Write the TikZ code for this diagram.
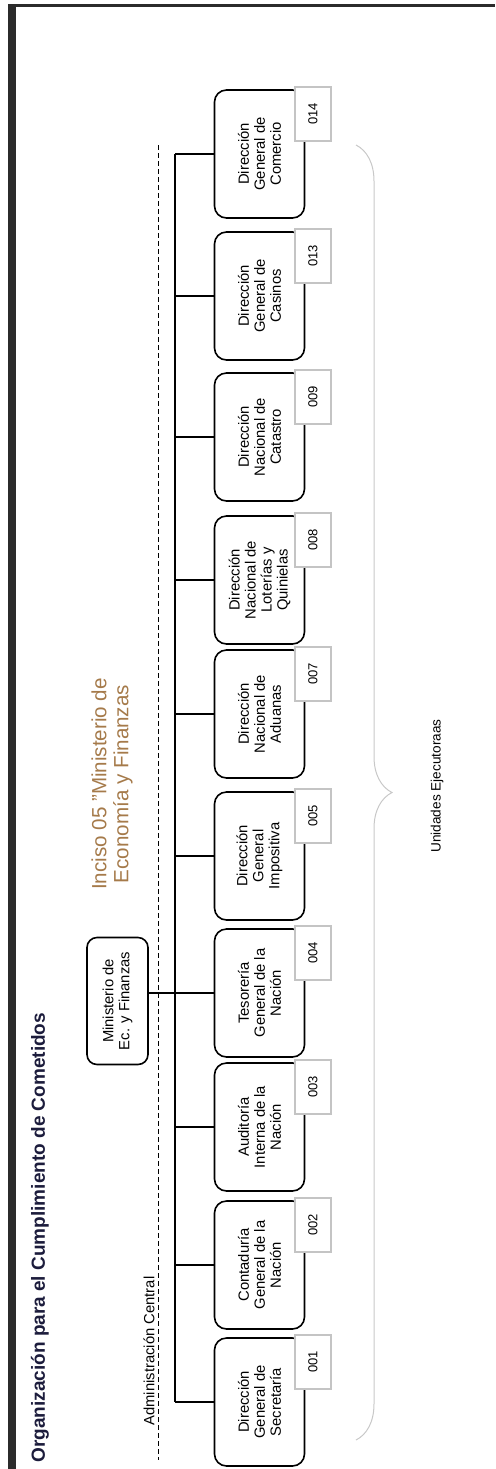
\documentclass[tikz,border=0pt]{standalone}
\usepackage{fontspec}
\setmainfont{Liberation Sans}
\usepackage{tikz}
\usetikzlibrary{decorations.pathreplacing}
\definecolor{frame}{HTML}{2B2B2B}
\definecolor{navy}{HTML}{1C1C3C}
\definecolor{tan}{HTML}{A57A4A}
\definecolor{codeline}{HTML}{C4C4C4}
\definecolor{bracegray}{HTML}{C8C8C8}

\begin{document}
\begin{tikzpicture}[x=0.5pt, y=-0.5pt,
  every node/.style={rotate=90, inner sep=0pt},
  unit/.style={draw=black, line width=0.8pt, rounded corners=6pt, fill=white,
    minimum width=64pt, minimum height=45pt, align=center,
    font=\fontsize{7.4}{8}\selectfont},
  code/.style={draw=codeline, line width=0.6pt, fill=white,
    minimum width=27pt, minimum height=18pt, font=\fontsize{6.5}{7}\selectfont},
  link/.style={draw=black, line width=0.8pt}]
  \useasboundingbox (0,0) rectangle (495,1469);
  % Frame
  \fill[frame] (8,4) rectangle (16,1469);
  \fill[frame] (8,4) rectangle (495,7);

  % Titles
  \node[anchor=west, text=navy, font=\fontsize{9.5}{11}\selectfont\bfseries] (title) at (40,1463)
    {Organización para el Cumplimiento de Cometidos};
  \node[text=tan, align=center, font=\fontsize{10.3}{11}\selectfont] (inciso) at (112,784)
    {Inciso 05 \symbol{34}Ministerio de\\Economía y Finanzas};
  \node[font=\fontsize{7.4}{8}\selectfont] (admin) at (149,1351) {Administración Central};
  \draw[black, line width=0.5pt, dash pattern=on 2.5pt off 1.5pt] (158,145) -- (158,1460);

  % Ministry
  \node[unit, minimum width=63.5pt, minimum height=30.5pt, rounded corners=5pt] (min) at (117.5,1001)
    {Ministerio de\\Ec. y Finanzas};

  % Executing units
  \coordinate (trunk) at (175,0);
  \foreach \y/\n/\txt in {154/014/{Dirección\\General de\\Comercio},
      296/013/{Dirección\\General de\\Casinos},
      437/009/{Dirección\\Nacional de\\Catastro},
      580/008/{Dirección\\Nacional de\\Loterías y\\Quinielas},
      714/007/{Dirección\\Nacional de\\Aduanas},
      856/005/{Dirección\\General\\Impositiva},
      993/004/{Tesorería\\General de la\\Nación},
      1127/003/{Auditoría\\Interna de la\\Nación},
      1265/002/{Contaduría\\General de la\\Nación},
      1402/001/{Dirección\\General de\\Secretaría}}{
    \node[unit] (b\n) at (259.5,\y) {\txt};
    \node[code] (c\n) at (313,\y-40) {\n};
    \draw[link] (b\n.north) -- (b\n.north -| trunk);
  }
  \draw[link] (b014.north -| trunk) -- (b001.north -| trunk);
  \draw[link] (b004.north -| min.south) -- (b004.north);

  % Brace
  \draw[bracegray, line width=0.5pt, decorate, decoration={brace, amplitude=18pt}]
    (356,145) -- (356,1440);
  \node[font=\fontsize{6.8}{8}\selectfont] (units) at (437,786) {Unidades Ejecutoraas};
\end{tikzpicture}
\end{document}
